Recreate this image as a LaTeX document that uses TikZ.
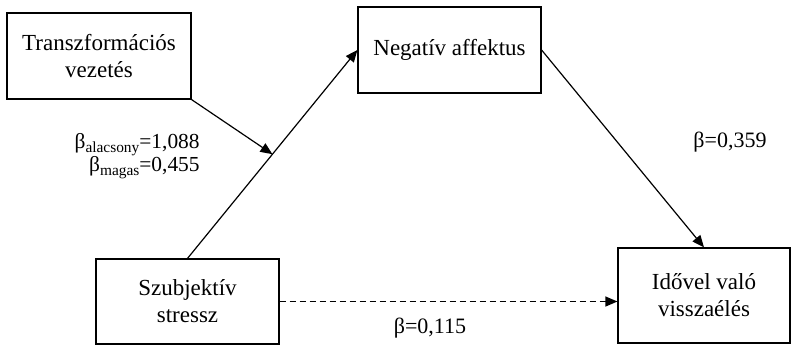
\documentclass[tikz,border=0pt]{standalone}
\usepackage{fontspec}
\setmainfont{Liberation Serif}
\usetikzlibrary{arrows.meta,calc}
\newcommand{\betasub}[1]{β\raisebox{-1.8pt}{\fontsize{7.7}{8}\selectfont #1}}
\begin{document}
\begin{tikzpicture}
[x=0.5pt,y=-0.5pt,
   var/.style={draw,line width=0.6pt,align=center,inner sep=0pt,font=\fontsize{11.5}{13.5}\selectfont},
   coef/.style={inner sep=0pt,font=\fontsize{11}{13}\selectfont},
   arr/.style={line width=0.6pt,-{Triangle[length=6pt,width=5pt]}}]
\useasboundingbox (0,0) rectangle (791,344);
\node[var,minimum width=92pt,minimum height=43pt] (trans) at (99,56) {Transzformációs\\vezetés};
\node[var,minimum width=91.5pt,minimum height=43pt] (neg) at (449.5,50) {Negatív affektus};
\node[var,minimum width=91.5pt,minimum height=42.5pt] (szub) at (187.5,301.5) {Szubjektív\\stressz};
\node[var,minimum width=86pt,minimum height=47.5pt] (ido) at (704,295.5) {Idővel való\\visszaélés};
\coordinate (m) at ($(szub.north)!0.5!(neg.west)$);

\draw[arr] (szub.north) -- (neg.west);
\draw[arr] (trans.south east) -- (m);
\draw[arr] (neg.east) -- (ido.north);
\draw[arr,dash pattern=on 3pt off 2pt] (szub.east) -- (szub.east -| ido.west);

\node[coef] (b1) at (730,142) {β=0,359};
\node[coef] (b2) at (430,328) {β=0,115};
\node[coef,anchor=east,align=right,font=\fontsize{10.7}{11.5}\selectfont] (b3) at (200,156)
   {\betasub{alacsony}=1,088\\\betasub{magas}=0,455};
\end{tikzpicture}
\end{document}
